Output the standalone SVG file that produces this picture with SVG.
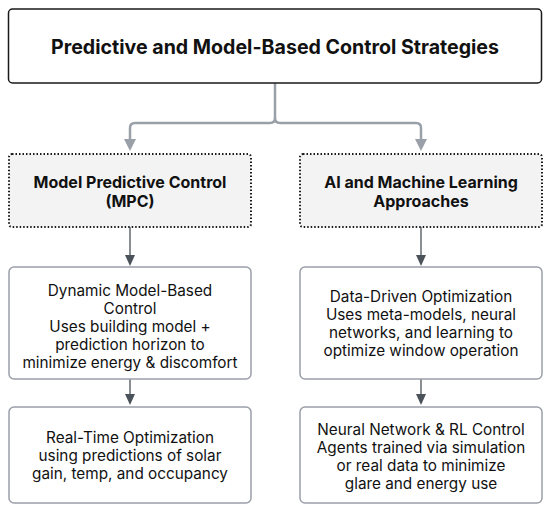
<svg xmlns="http://www.w3.org/2000/svg" width="550" height="512" viewBox="0 0 550 512">
<style>
.box{fill:#ffffff;stroke:#9aa0a8;stroke-width:1.5}
.top{fill:#ffffff;stroke:#1a1a1a;stroke-width:1.5}
.cat{fill:#f3f3f4;stroke:#1a1a1a;stroke-width:2;stroke-dasharray:1.5 2}
text{font-family:Inter,"Liberation Sans",sans-serif;fill:#111;text-anchor:middle}
.t{font-size:19.6px;font-weight:700}
.h{font-size:16px;font-weight:700}
.b{font-size:15.3px}
.big{fill:none;stroke:#9aa0a8;stroke-width:2.5}
.small{fill:none;stroke:#4b525a;stroke-width:1.3}
</style>
<g id="connectors">
<path class="big" d="M275,83 V118 Q275,123 270,123 H135 Q130,123 130,128 V140"/>
<path class="big" d="M275,118 Q275,123 280,123 H416 Q421,123 421,128 V140"/>
<path d="M124,139 L136,139 L130,151 Z" fill="#9aa0a8"/>
<path d="M415,139 L427,139 L421,151 Z" fill="#9aa0a8"/>
<path class="small" d="M130,227 V256"/>
<path d="M125,255 L135,255 L130,266 Z" fill="#4b525a"/>
<path class="small" d="M421,227 V256"/>
<path d="M416,255 L426,255 L421,266 Z" fill="#4b525a"/>
<path class="small" d="M130,379 V395"/>
<path d="M125,394 L135,394 L130,405 Z" fill="#4b525a"/>
<path class="small" d="M421,379 V395"/>
<path d="M416,394 L426,394 L421,405 Z" fill="#4b525a"/>
</g>
<g id="root">
<rect class="top" x="8.5" y="9" width="533" height="74" rx="4"/>
<text class="t" x="275" y="53.5">Predictive and Model-Based Control Strategies</text>
</g>
<g id="mpc">
<rect class="cat" x="9" y="154" width="242" height="73" rx="3"/>
<text class="h" x="130" y="188">Model Predictive Control</text>
<text class="h" x="130" y="207">(MPC)</text>
</g>
<g id="ai">
<rect class="cat" x="300" y="154" width="242" height="73" rx="3"/>
<text class="h" x="421" y="188">AI and Machine Learning</text>
<text class="h" x="421" y="207">Approaches</text>
</g>
<g id="dyn">
<rect class="box" x="9" y="267" width="242" height="112" rx="5"/>
<text class="b" x="130" y="296">Dynamic Model-Based</text>
<text class="b" x="130" y="314">Control</text>
<text class="b" x="130" y="332">Uses building model +</text>
<text class="b" x="130" y="350">prediction horizon to</text>
<text class="b" x="130" y="368">minimize energy &amp; discomfort</text>
</g>
<g id="data">
<rect class="box" x="300" y="267" width="242" height="112" rx="5"/>
<text class="b" x="421" y="302">Data-Driven Optimization</text>
<text class="b" x="421" y="320">Uses meta-models, neural</text>
<text class="b" x="421" y="338">networks, and learning to</text>
<text class="b" x="421" y="356">optimize window operation</text>
</g>
<g id="rt">
<rect class="box" x="9" y="407" width="242" height="96" rx="5"/>
<text class="b" x="130" y="443">Real-Time Optimization</text>
<text class="b" x="130" y="461">using predictions of solar</text>
<text class="b" x="130" y="479">gain, temp, and occupancy</text>
</g>
<g id="nn">
<rect class="box" x="300" y="407" width="242" height="96" rx="5"/>
<text class="b" x="421" y="435">Neural Network &amp; RL Control</text>
<text class="b" x="421" y="453">Agents trained via simulation</text>
<text class="b" x="421" y="471">or real data to minimize</text>
<text class="b" x="421" y="489">glare and energy use</text>
</g>
</svg>
